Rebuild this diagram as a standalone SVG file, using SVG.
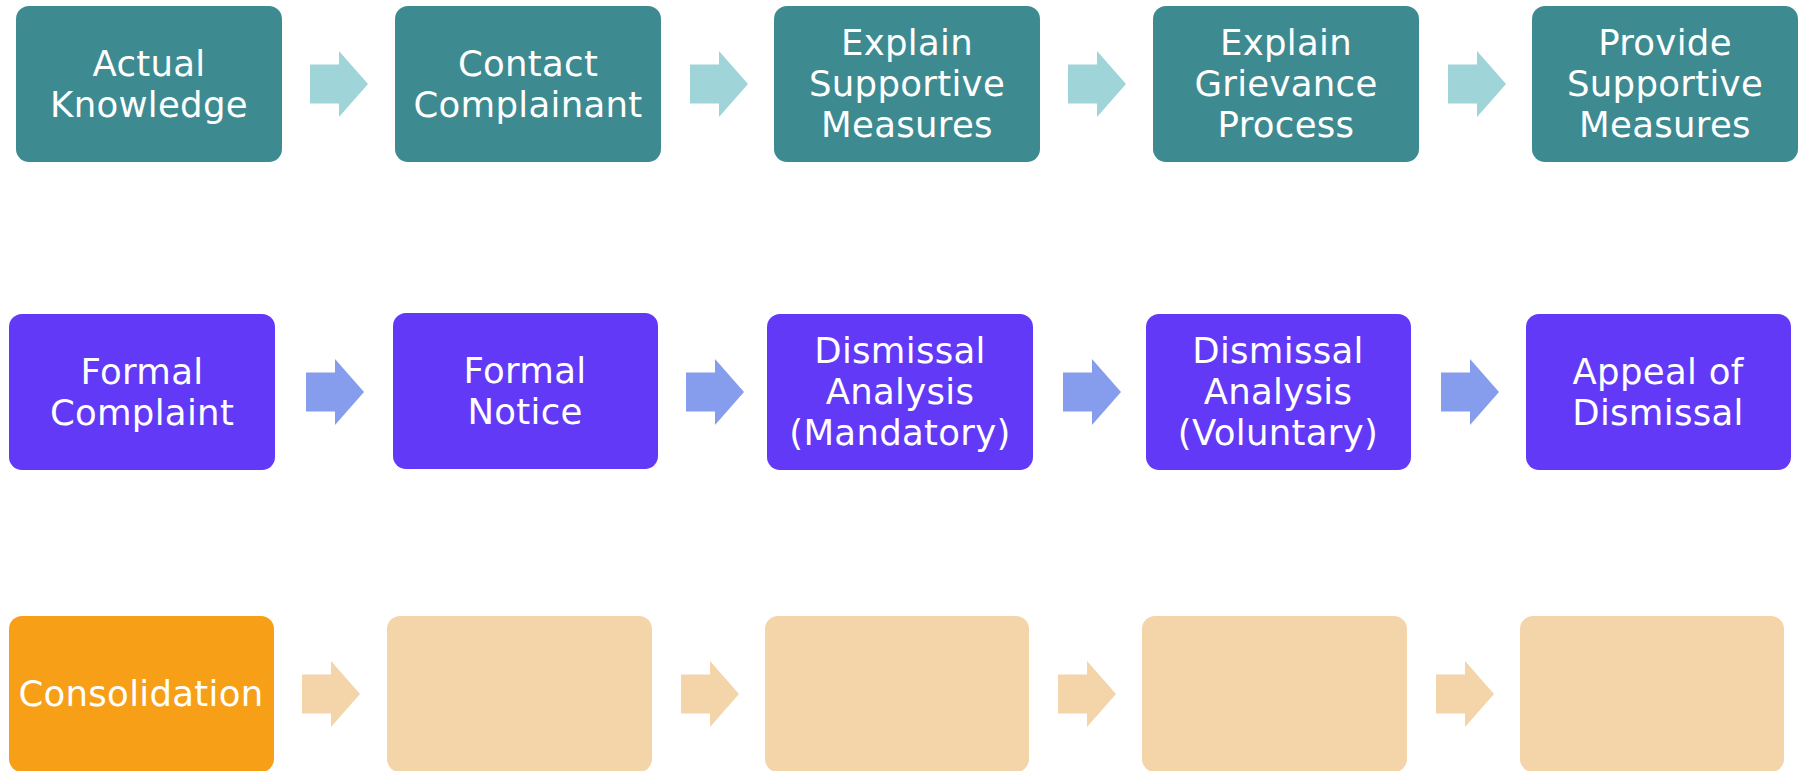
<svg xmlns="http://www.w3.org/2000/svg" width="1803" height="771" viewBox="0 0 1803 771">
<defs>
<style>
.t{font-family:"DejaVu Sans","Liberation Sans",sans-serif;font-size:35.5px;letter-spacing:0.3px;fill:#fff;text-anchor:middle}
.b1{fill:#3D8B91}.a1{fill:#9FD4D8}
.b2{fill:#6239F7}.a2{fill:#869DEE}
.b3{fill:#F79F17}.b3l{fill:#F4D4A9}.a3{fill:#F4D4A9}
</style>
<path id="arr" d="M0,-19.5 H29 V-33 L58,0 L29,33 V19.5 H0 Z"/>
</defs>
<rect width="1803" height="771" fill="#fff"/>
<g id="connectors">
<use href="#arr" class="a1" x="310" y="84"/>
<use href="#arr" class="a1" x="690" y="84"/>
<use href="#arr" class="a1" x="1068" y="84"/>
<use href="#arr" class="a1" x="1448" y="84"/>
<use href="#arr" class="a2" x="306" y="392"/>
<use href="#arr" class="a2" x="686" y="392"/>
<use href="#arr" class="a2" x="1063" y="392"/>
<use href="#arr" class="a2" x="1441" y="392"/>
<use href="#arr" class="a3" x="302" y="694"/>
<use href="#arr" class="a3" x="681" y="694"/>
<use href="#arr" class="a3" x="1058" y="694"/>
<use href="#arr" class="a3" x="1436" y="694"/>
</g>
<g id="n1"><rect class="b1" x="16" y="6" width="266" height="156" rx="13"/><text class="t" x="149"><tspan x="149" y="76">Actual</tspan><tspan x="149" y="117">Knowledge</tspan></text></g>
<g id="n2"><rect class="b1" x="395" y="6" width="266" height="156" rx="13"/><text class="t"><tspan x="528" y="76">Contact</tspan><tspan x="528" y="117">Complainant</tspan></text></g>
<g id="n3"><rect class="b1" x="774" y="6" width="266" height="156" rx="13"/><text class="t"><tspan x="907" y="55">Explain</tspan><tspan x="907" y="96">Supportive</tspan><tspan x="907" y="137">Measures</tspan></text></g>
<g id="n4"><rect class="b1" x="1153" y="6" width="266" height="156" rx="13"/><text class="t"><tspan x="1286" y="55">Explain</tspan><tspan x="1286" y="96">Grievance</tspan><tspan x="1286" y="137">Process</tspan></text></g>
<g id="n5"><rect class="b1" x="1532" y="6" width="266" height="156" rx="13"/><text class="t"><tspan x="1665" y="55">Provide</tspan><tspan x="1665" y="96">Supportive</tspan><tspan x="1665" y="137">Measures</tspan></text></g>
<g id="n6"><rect class="b2" x="9" y="314" width="266" height="156" rx="13"/><text class="t"><tspan x="142" y="384">Formal</tspan><tspan x="142" y="425">Complaint</tspan></text></g>
<g id="n7"><rect class="b2" x="393" y="313" width="265" height="156" rx="13"/><text class="t"><tspan x="525" y="383">Formal</tspan><tspan x="525" y="424">Notice</tspan></text></g>
<g id="n8"><rect class="b2" x="767" y="314" width="266" height="156" rx="13"/><text class="t"><tspan x="900" y="363">Dismissal</tspan><tspan x="900" y="404">Analysis</tspan><tspan x="900" y="445">(Mandatory)</tspan></text></g>
<g id="n9"><rect class="b2" x="1146" y="314" width="265" height="156" rx="13"/><text class="t"><tspan x="1278" y="363">Dismissal</tspan><tspan x="1278" y="404">Analysis</tspan><tspan x="1278" y="445">(Voluntary)</tspan></text></g>
<g id="n10"><rect class="b2" x="1526" y="314" width="265" height="156" rx="13"/><text class="t"><tspan x="1658" y="384">Appeal of</tspan><tspan x="1658" y="425">Dismissal</tspan></text></g>
<g id="n11"><rect class="b3" x="9" y="616" width="265" height="156" rx="13"/><text class="t" x="141" y="706">Consolidation</text></g>
<g id="n12"><rect class="b3l" x="387" y="616" width="265" height="156" rx="13"/></g>
<g id="n13"><rect class="b3l" x="765" y="616" width="264" height="156" rx="13"/></g>
<g id="n14"><rect class="b3l" x="1142" y="616" width="265" height="156" rx="13"/></g>
<g id="n15"><rect class="b3l" x="1520" y="616" width="264" height="156" rx="13"/></g>
</svg>
